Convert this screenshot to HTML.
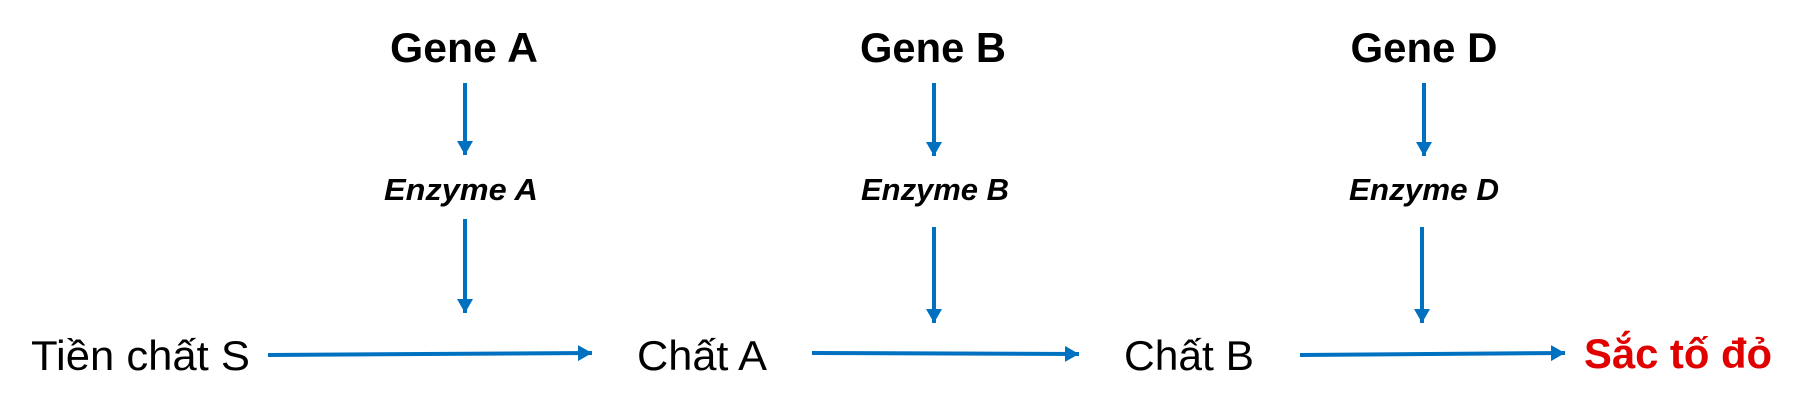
<!DOCTYPE html>
<html><head><meta charset="utf-8"><style>html,body{margin:0;padding:0;background:#fff}svg{display:block}</style></head>
<body>
<svg width="1804" height="414" viewBox="0 0 1804 414" xmlns="http://www.w3.org/2000/svg">
<defs><marker id="ah" markerWidth="4" markerHeight="4" refX="3.5" refY="2" orient="auto" markerUnits="strokeWidth"><path d="M0,0 L3.5,2 L0,4 z" fill="#0070C0"/></marker></defs>
<g font-family="Liberation Sans, sans-serif" fill="#000">
<g font-weight="bold" font-size="42">
<text x="464" y="62" text-anchor="middle" textLength="148" lengthAdjust="spacingAndGlyphs">Gene A</text>
<text x="933" y="62" text-anchor="middle" textLength="146" lengthAdjust="spacingAndGlyphs">Gene B</text>
<text x="1424" y="62" text-anchor="middle" textLength="147" lengthAdjust="spacingAndGlyphs">Gene D</text>
</g>
<g font-weight="bold" font-style="italic" font-size="31">
<text x="461" y="200" text-anchor="middle" textLength="154" lengthAdjust="spacingAndGlyphs">Enzyme A</text>
<text x="935" y="200" text-anchor="middle" textLength="148" lengthAdjust="spacingAndGlyphs">Enzyme B</text>
<text x="1424" y="200" text-anchor="middle" textLength="150" lengthAdjust="spacingAndGlyphs">Enzyme D</text>
</g>
<g font-size="42">
<text x="31" y="370" textLength="219" lengthAdjust="spacingAndGlyphs">Tiền chất S</text>
<text x="637" y="370" textLength="130" lengthAdjust="spacingAndGlyphs">Chất A</text>
<text x="1124" y="370" textLength="130" lengthAdjust="spacingAndGlyphs">Chất B</text>
</g>
<text x="1584" y="368" font-size="42" font-weight="bold" fill="#E00000" textLength="188" lengthAdjust="spacingAndGlyphs">Sắc tố đỏ</text>
</g>
<g stroke="#0070C0" stroke-width="4" fill="none" marker-end="url(#ah)">
<line x1="465" y1="83" x2="465" y2="155"/>
<line x1="465" y1="219" x2="465" y2="313"/>
<line x1="934" y1="83" x2="934" y2="156"/>
<line x1="934" y1="227" x2="934" y2="323"/>
<line x1="1424" y1="83" x2="1424" y2="156"/>
<line x1="1422" y1="227" x2="1422" y2="323"/>
<line x1="268" y1="355" x2="592" y2="353"/>
<line x1="812" y1="353" x2="1079" y2="354"/>
<line x1="1300" y1="355" x2="1565" y2="353"/>
</g>
</svg>
</body></html>
